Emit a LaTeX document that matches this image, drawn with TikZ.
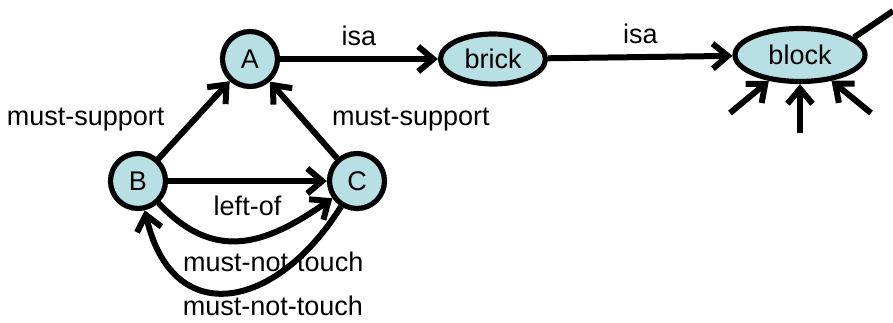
\documentclass[tikz,border=0pt]{standalone}
\usepackage{fontspec}
\setmainfont{Liberation Sans}
\usetikzlibrary{arrows.meta, shapes.geometric}
\definecolor{nodecolor}{HTML}{B8DFE3}

\begin{document}
\begin{tikzpicture}[
    x=0.5pt, y=0.5pt,
    every node/.style={font=\fontsize{13.5}{16}\selectfont},
    obj/.style={circle, draw, line width=2.6pt, fill=nodecolor, minimum size=27.5pt, inner sep=0pt},
    cls/.style={ellipse, draw, line width=2.6pt, fill=nodecolor, inner sep=0pt},
    arrow/.style={-{Straight Barb[length=7.5pt, width=12.5pt]}, line width=3pt}
]
    \useasboundingbox (0,0) rectangle (893,322);

    % Objects
    \node[obj] (A) at (250,263) {A};
    \node[obj] (B) at (138,141) {B};
    \node[obj] (C) at (357,141) {C};

    % Classes
    \node[cls, minimum width=52.5pt, minimum height=25pt] (brick) at (493,263) {brick};
    \node[cls, minimum width=65pt, minimum height=26.5pt] (block) at (800,267) {block};

    % Loose ends round block
    \coordinate (blockout) at (893,311);
    \coordinate (inleft) at (730,209);
    \coordinate (inmid) at (800,189);
    \coordinate (inright) at (871,209);

    \draw[arrow] (A) -- node[above=2pt] {isa} (brick);
    \draw[arrow] (brick) -- node[above=2pt] {isa} (block);
    \draw[arrow] (B) -- node[left=10pt] {must-support} (A);
    \draw[arrow] (C) -- node[right=9.5pt] {must-support} (A);
    \draw[arrow] (B) -- node[below=2.5pt] {left-of} (C);
    \draw[arrow] (B) to[out=-47, in=-145, looseness=1.2] node[below=1pt, xshift=16pt] {must-not-touch} (C);
    \draw[arrow] (C) to[out=-122, in=-77, looseness=1.6] node[below=-3pt, xshift=22pt] {must-not-touch} (B);

    \draw[line width=3pt] (block.18) -- (blockout);
    \draw[arrow] (inleft) -- (block);
    \draw[arrow] (inmid) -- (block);
    \draw[arrow] (inright) -- (block);
\end{tikzpicture}
\end{document}
